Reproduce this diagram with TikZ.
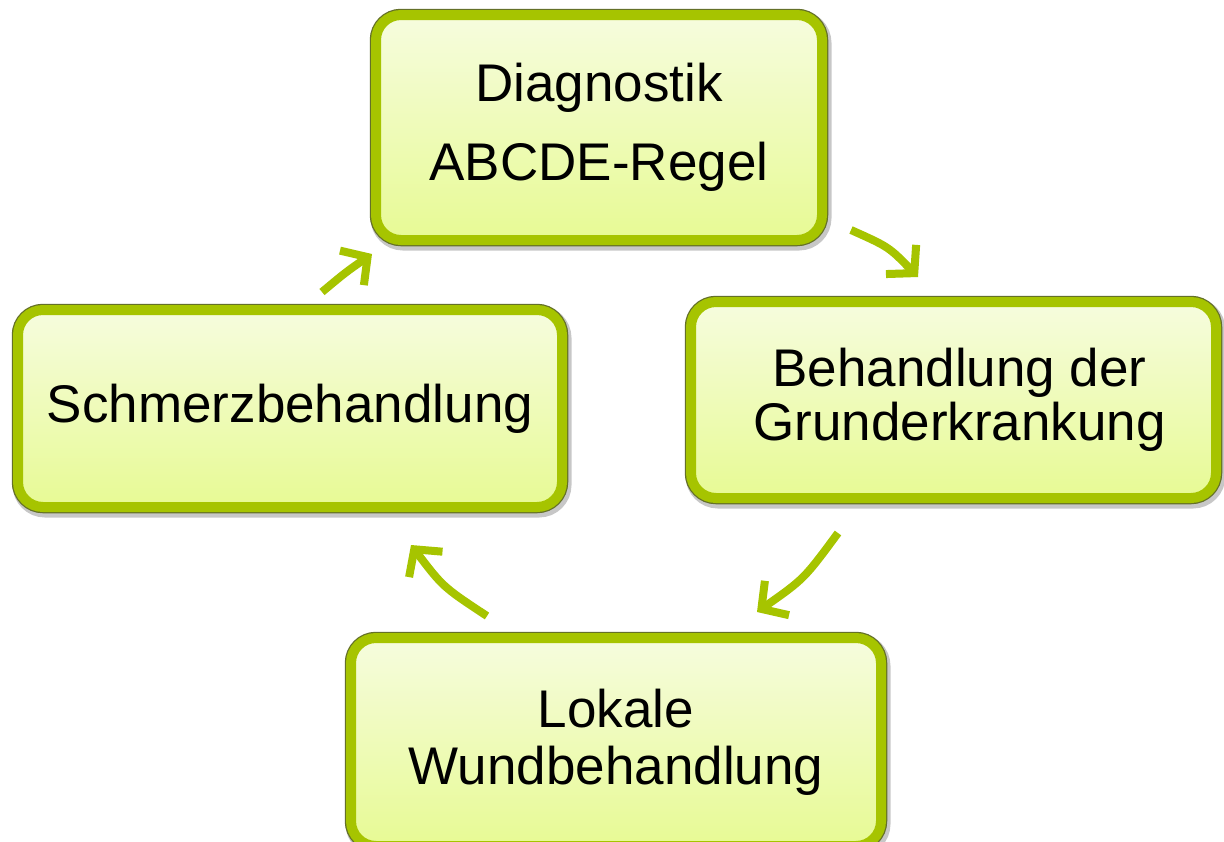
\documentclass[tikz,border=0pt]{standalone}
\usepackage{fontspec}
\setmainfont{Liberation Sans}
\usetikzlibrary{arrows.meta}
\definecolor{lgreen}{RGB}{166,196,0}
\definecolor{ldark}{RGB}{100,112,40}
\definecolor{ftop}{RGB}{246,252,222}
\definecolor{fbot}{RGB}{231,250,148}
\begin{document}
\begin{tikzpicture}[x=1pt,y=-1pt,
  box/.style={rectangle, rounded corners=25pt, align=center,
    font=\fontsize{53pt}{#1}\selectfont,
    top color=ftop, bottom color=fbot,
    draw=lgreen, line width=10pt,
    preaction={draw=black, draw opacity=0.22, line width=15pt,
      transform canvas={xshift=2pt, yshift=-3pt}},
    preaction={draw=ldark, line width=12.5pt}},
  cyc/.style={draw=lgreen, line width=8pt,
    -{Straight Barb[length=19pt, width=42pt]}}]
\fill[white] (0,0) rectangle (1224,841);
\useasboundingbox (0,0) rectangle (1224,841);

\node[box=79pt, minimum width=446pt, minimum height=225pt] (diag) at (599,127.5)
  {Diagnostik\\ABCDE-Regel};
\node[box=54pt, minimum width=525pt, minimum height=196pt] (grund) at (953.5,400)
  {\hspace*{12pt}Behandlung der\\\hspace*{12pt}Grunderkrankung};
\node[box=57pt, minimum width=530pt, minimum height=208pt] (wund) at (616,742)
  {Lokale\\Wundbehandlung};
\node[box=60pt, minimum width=544pt, minimum height=197pt] (schmerz) at (290,408.5)
  {Schmerzbehandlung};

\coordinate (a1s) at (851,230); \coordinate (a1e) at (918,277);
\coordinate (a2s) at (838,533); \coordinate (a2e) at (757,612);
\coordinate (a3s) at (487,616); \coordinate (a3e) at (411,545);
\coordinate (a4s) at (322,292); \coordinate (a4e) at (372,254);

\draw[cyc] (a1s) .. controls (889,247) .. (a1e);
\draw[cyc] (a2s) .. controls (804,579) .. (a2e);
\draw[cyc] (a3s) .. controls (443,587) .. (a3e);
\draw[cyc] (a4s) .. controls (346,272) .. (a4e);
\end{tikzpicture}
\end{document}
